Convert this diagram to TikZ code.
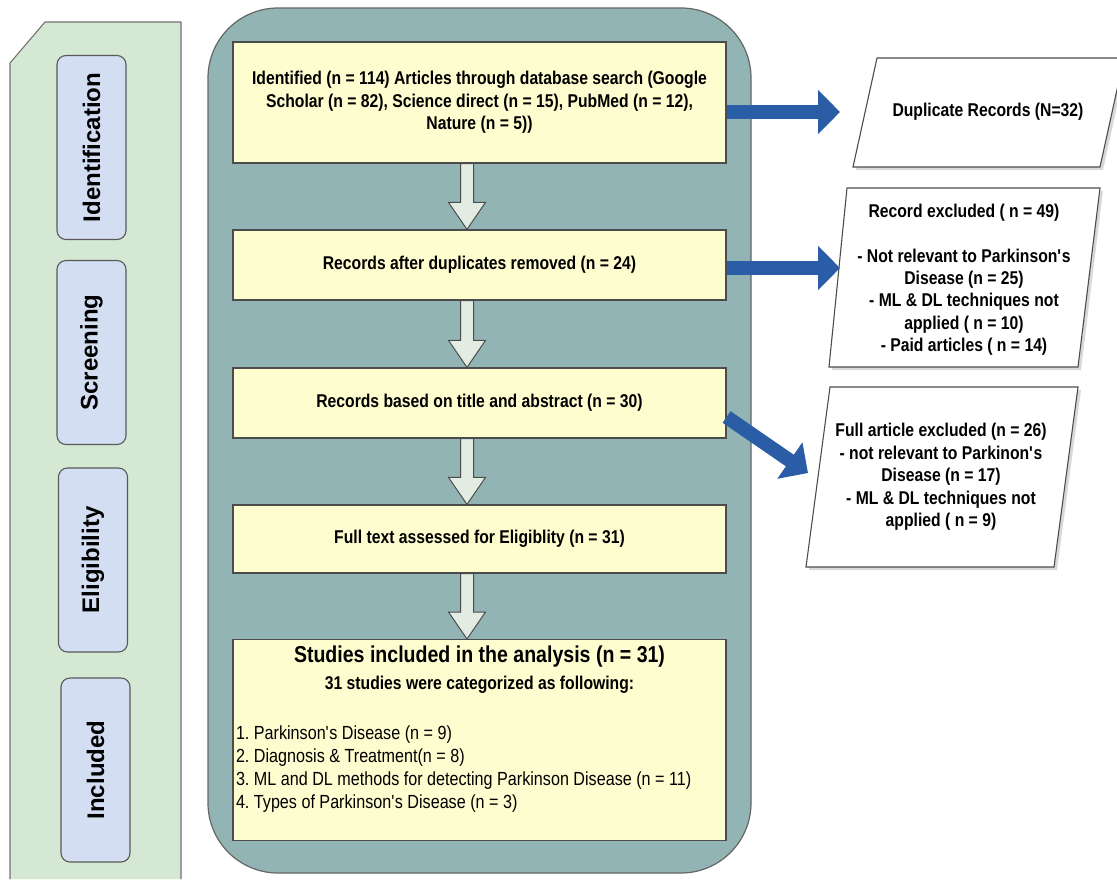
\documentclass[tikz,border=0pt]{standalone}
\usepackage{fontspec}
\setmainfont{Liberation Sans}[FakeStretch=0.85]
\newfontfamily\sidefont{Liberation Sans}
\usetikzlibrary{arrows.meta,calc,shadows}
\definecolor{panelgreen}{HTML}{D5E8D4}
\definecolor{labelblue}{HTML}{D4DEF2}
\definecolor{frameteal}{HTML}{93B4B4}
\definecolor{boxyellow}{HTML}{FEFDD0}
\definecolor{arrowfill}{HTML}{E2ECE2}
\definecolor{flowblue}{HTML}{2A5DA6}
\newcommand{\apos}{\textquotesingle}
\frenchspacing
% hollow down arrow between two stacked boxes
\newcommand{\hollowarrow}[2]{%
  \draw[hollow] let \p1=(#1.south -| ax), \p2=(#2.north -| ax) in
    (\x1-6.5pt,\y1) -- (\x1-6.5pt,\y2+27pt) -- (\x1-18.5pt,\y2+27pt) -- (\x1,\y2)
    -- (\x1+18.5pt,\y2+27pt) -- (\x1+6.5pt,\y2+27pt) -- (\x1+6.5pt,\y1) -- cycle;}
\begin{document}
\begin{tikzpicture}[x=1pt,y=-1pt,
	panel/.style={fill=panelgreen,draw=black!55,line width=1.1pt},
	phase/.style={draw=black!65,fill=labelblue,line width=1.1pt,rounded corners=9pt,rotate=90,minimum width=184pt,minimum height=69pt,inner sep=0pt,font=\sidefont\bfseries\fontsize{24}{26}\selectfont},
	outerframe/.style={fill=frameteal,draw=black!60,line width=1.2pt,rounded corners=70pt},
	flowbox/.style={draw=black!70,fill=boxyellow,line width=1.2pt,minimum width=493pt,inner sep=0pt,align=center,font=\bfseries\fontsize{18.5}{22.4}\selectfont},
	hollow/.style={fill=arrowfill,draw=black!70,line width=1pt,line join=miter},
	para/.style={fill=white,draw=black!70,line width=1.1pt,drop shadow={shadow xshift=3pt,shadow yshift=-3pt,opacity=0.3}},
	note/.style={align=center,font=\bfseries\fontsize{18.5}{22.4}\selectfont},
	bluearr/.style={line width=14pt,draw=flowblue,-{Triangle[length=22pt,width=43pt]}}]
	\useasboundingbox (0,0) rectangle (1117,879);
	% phases on the left
	\fill[panelgreen] (10,879) -- (10,63) -- (45,22) -- (181,22) -- (181,879) -- cycle;
	\draw[panel] (10,879) -- (10,63) -- (45,22) -- (181,22) -- (181,879);
	\node[phase] (ident) at (91.5,147.5) {Identification};
	\node[phase] (screen) at (91.5,352.5) {Screening};
	\node[phase] (elig) at (93,560) {Eligibility};
	\node[phase] (incl) at (95.5,770) {Included};
	% main column
	\draw[outerframe] (208,8) rectangle (751,873);
	\coordinate (ax) at (467,0);
	\node[flowbox,minimum height=121pt] (b1) at (479.5,102.5) {Identified (n = 114) Articles through database search (Google\\ Scholar (n = 82), Science direct (n = 15), PubMed (n = 12),\\ Nature (n = 5))};
	\node[flowbox,minimum height=70pt] (b2) at (479.5,265) {Records after duplicates removed (n = 24)};
	\node[flowbox,minimum height=70pt] (b3) at (479.5,403) {Records based on title and abstract (n = 30)};
	\node[flowbox,minimum height=68pt] (b4) at (479.5,539) {Full text assessed for Eligiblity (n = 31)};
	\node[flowbox,anchor=north,minimum height=201pt] (b5) at (479.5,639) {\begin{minipage}[c][195pt][t]{487pt}
		\vspace*{3pt}\centering{\fontsize{23}{26}\selectfont Studies included in the analysis (n = 31)\par}
		\vspace{5pt}31 studies were categorized as following:\par
		\vspace{27pt}\raggedright\mdseries\fontsize{19}{23}\selectfont
		1. Parkinson\apos s Disease (n = 9)\\
		2. Diagnosis \& Treatment(n = 8)\\
		3. ML and DL methods for detecting Parkinson Disease (n = 11)\\
		4. Types of Parkinson\apos s Disease (n = 3)\par
		\end{minipage}};
	\hollowarrow{b1}{b2}
	\hollowarrow{b2}{b3}
	\hollowarrow{b3}{b4}
	\hollowarrow{b4}{b5}
	% excluded records
	\draw[para] (877,58) -- (1124,58) -- (1100,167) -- (853,167) -- cycle;
	\node[note] (dup) at (988,112) {Duplicate Records (N=32)};
	\draw[para] (847,188) -- (1100,188) -- (1078,367) -- (829,367) -- cycle;
	\node[note] (rec) at (964,280) {Record excluded ( n = 49)\\[22pt]
		- Not relevant to Parkinson\apos s\\ Disease (n = 25)\\ - ML \& DL techniques not\\ applied ( n = 10)\\ - Paid articles ( n = 14)};
	\draw[para] (830,387) -- (1078,387) -- (1054,567) -- (806,567) -- cycle;
	\node[note] (full) at (941,477) {Full article excluded (n = 26)\\ - not relevant to Parkinon\apos s\\ Disease (n = 17)\\ - ML \& DL techniques not\\ applied ( n = 9)};
	\coordinate (dupin) at (840,112);
	\coordinate (recin) at (840,268);
	\coordinate (fullin) at (808,473);
	\draw[bluearr] ([yshift=-9.5pt]b1.east) -- (dupin);
	\draw[bluearr] ([yshift=-3pt]b2.east) -- (recin);
	\draw[bluearr] ([yshift=-14pt]b3.east) -- (fullin);
\end{tikzpicture}
\end{document}
